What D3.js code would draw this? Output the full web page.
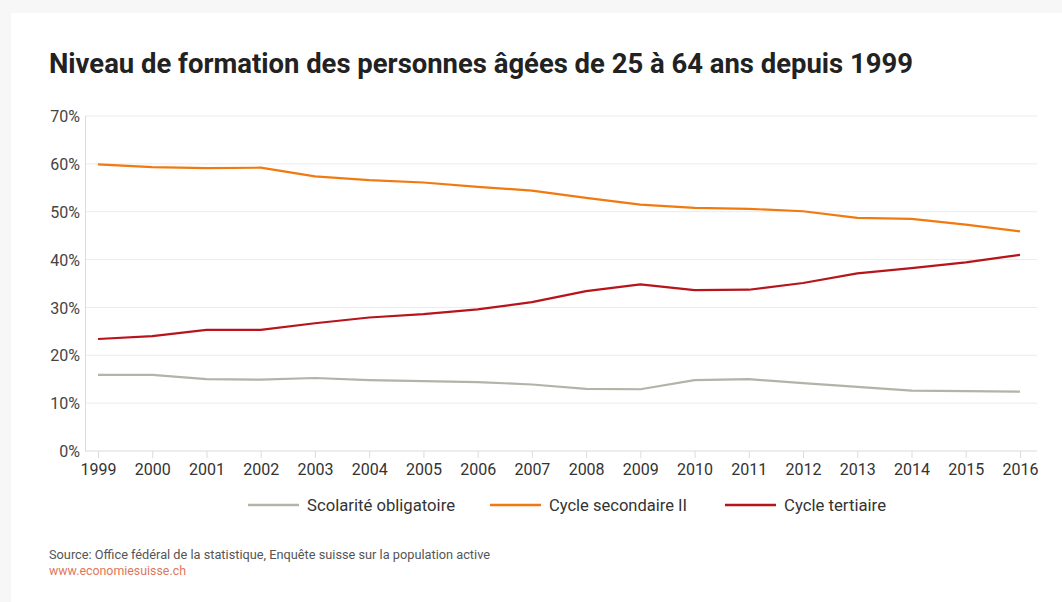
<!DOCTYPE html>
<html><head><meta charset="utf-8">
<script src="https://cdn.jsdelivr.net/npm/d3@7"></script>
<style>
html,body{margin:0;padding:0;background:#f7f7f7;}
svg{display:block;}
</style></head>
<body>
<svg id="chart" width="1062" height="602"></svg>
<script>
const years = [1999,2000,2001,2002,2003,2004,2005,2006,2007,2008,2009,2010,2011,2012,2013,2014,2015,2016];
const scolarite = [15.9,15.9,15.0,14.9,15.25,14.8,14.6,14.4,13.9,13.0,12.9,14.8,15.0,14.2,13.4,12.6,12.5,12.4];
const secondaire = [59.9,59.3,59.1,59.2,57.4,56.6,56.1,55.2,54.4,52.9,51.5,50.8,50.6,50.1,48.7,48.5,47.3,45.9];
const tertiaire = [23.4,24.0,25.3,25.3,26.7,27.9,28.6,29.6,31.1,33.4,34.8,33.6,33.7,35.1,37.1,38.2,39.4,41.0];
const yTicks = [0,10,20,30,40,50,60,70];
const seriesNames = ["Scolarité obligatoire","Cycle secondaire II","Cycle tertiaire"];
const seriesColors = ["#b3b3a8","#f07a10","#b7141c"];

const svg = d3.select("#chart");
const font = "Roboto, 'DejaVu Sans', sans-serif";

svg.append("rect").attr("x",11).attr("y",13).attr("width",1062-11).attr("height",602-13).attr("fill","#fff");

svg.append("text").attr("x",49).attr("y",73)
  .attr("font-family",font).attr("font-weight",700).attr("font-size",27)
  .attr("fill","#222").attr("textLength",864).attr("lengthAdjust","spacingAndGlyphs")
  .text("Niveau de formation des personnes âgées de 25 à 64 ans depuis 1999");

const x = d3.scalePoint().domain(years).range([98,1020]);
const y = d3.scaleLinear().domain([0,70]).range([451,116]);
const left = 85, right = 1037;

// gridlines
svg.append("g").selectAll("line").data(yTicks).join("line")
  .attr("x1",left).attr("x2",right).attr("y1",d=>y(d)).attr("y2",d=>y(d))
  .attr("stroke",d=>d===0?"#dcdcdc":"#ebebeb").attr("stroke-width",1);
// y axis line
svg.append("line").attr("x1",left+0.5).attr("x2",left+0.5).attr("y1",116).attr("y2",451)
  .attr("stroke","#dcdcdc");

// y labels
const yAxis = d3.axisLeft(y).tickValues(yTicks).tickSize(0).tickPadding(5).tickFormat(d=>d+"%");
const gy = svg.append("g").attr("transform",`translate(${left},0)`).call(yAxis);
gy.select(".domain").remove();
gy.selectAll("text").attr("font-family",font).attr("font-size",16).attr("fill","#444").attr("dy","0.35em");

// x axis
const xAxis = d3.axisBottom(x).tickSize(7).tickPadding(6);
const gx = svg.append("g").attr("transform","translate(0,451)").call(xAxis);
gx.select(".domain").remove();
gx.selectAll(".tick line").attr("stroke","#dcdcdc");
gx.selectAll("text").attr("font-family",font).attr("font-size",16).attr("fill","#333");

const line = d3.line().x((d,i)=>x(years[i])).y(d=>y(d));
[scolarite,secondaire,tertiaire].forEach((s,k)=>{
  svg.append("path").datum(s).attr("d",line).attr("fill","none")
    .attr("stroke",seriesColors[k]).attr("stroke-width",2.2).attr("stroke-linejoin","round");
});

// legend
const legX = [248,490,725];
const legW = [148,138,102];
seriesNames.forEach((n,k)=>{
  const g = svg.append("g").attr("transform",`translate(${legX[k]},505)`);
  g.append("line").attr("x1",0).attr("x2",51).attr("y1",0).attr("y2",0)
    .attr("stroke",seriesColors[k]).attr("stroke-width",2.5);
  g.append("text").attr("x",59).attr("y",0).attr("dy","0.35em")
    .attr("font-family",font).attr("font-size",16).attr("fill","#333")
    .attr("textLength",legW[k]).attr("lengthAdjust","spacingAndGlyphs").text(n);
});

svg.append("text").attr("x",49).attr("y",559).attr("font-family",font).attr("font-size",12.5)
  .attr("fill","#555").attr("textLength",441).attr("lengthAdjust","spacingAndGlyphs")
  .text("Source: Office fédéral de la statistique, Enquête suisse sur la population active");
svg.append("text").attr("x",49).attr("y",575).attr("font-family",font).attr("font-size",12.5)
  .attr("fill","#e0775a").attr("textLength",137).attr("lengthAdjust","spacingAndGlyphs")
  .text("www.economiesuisse.ch");
</script>
</body></html>
